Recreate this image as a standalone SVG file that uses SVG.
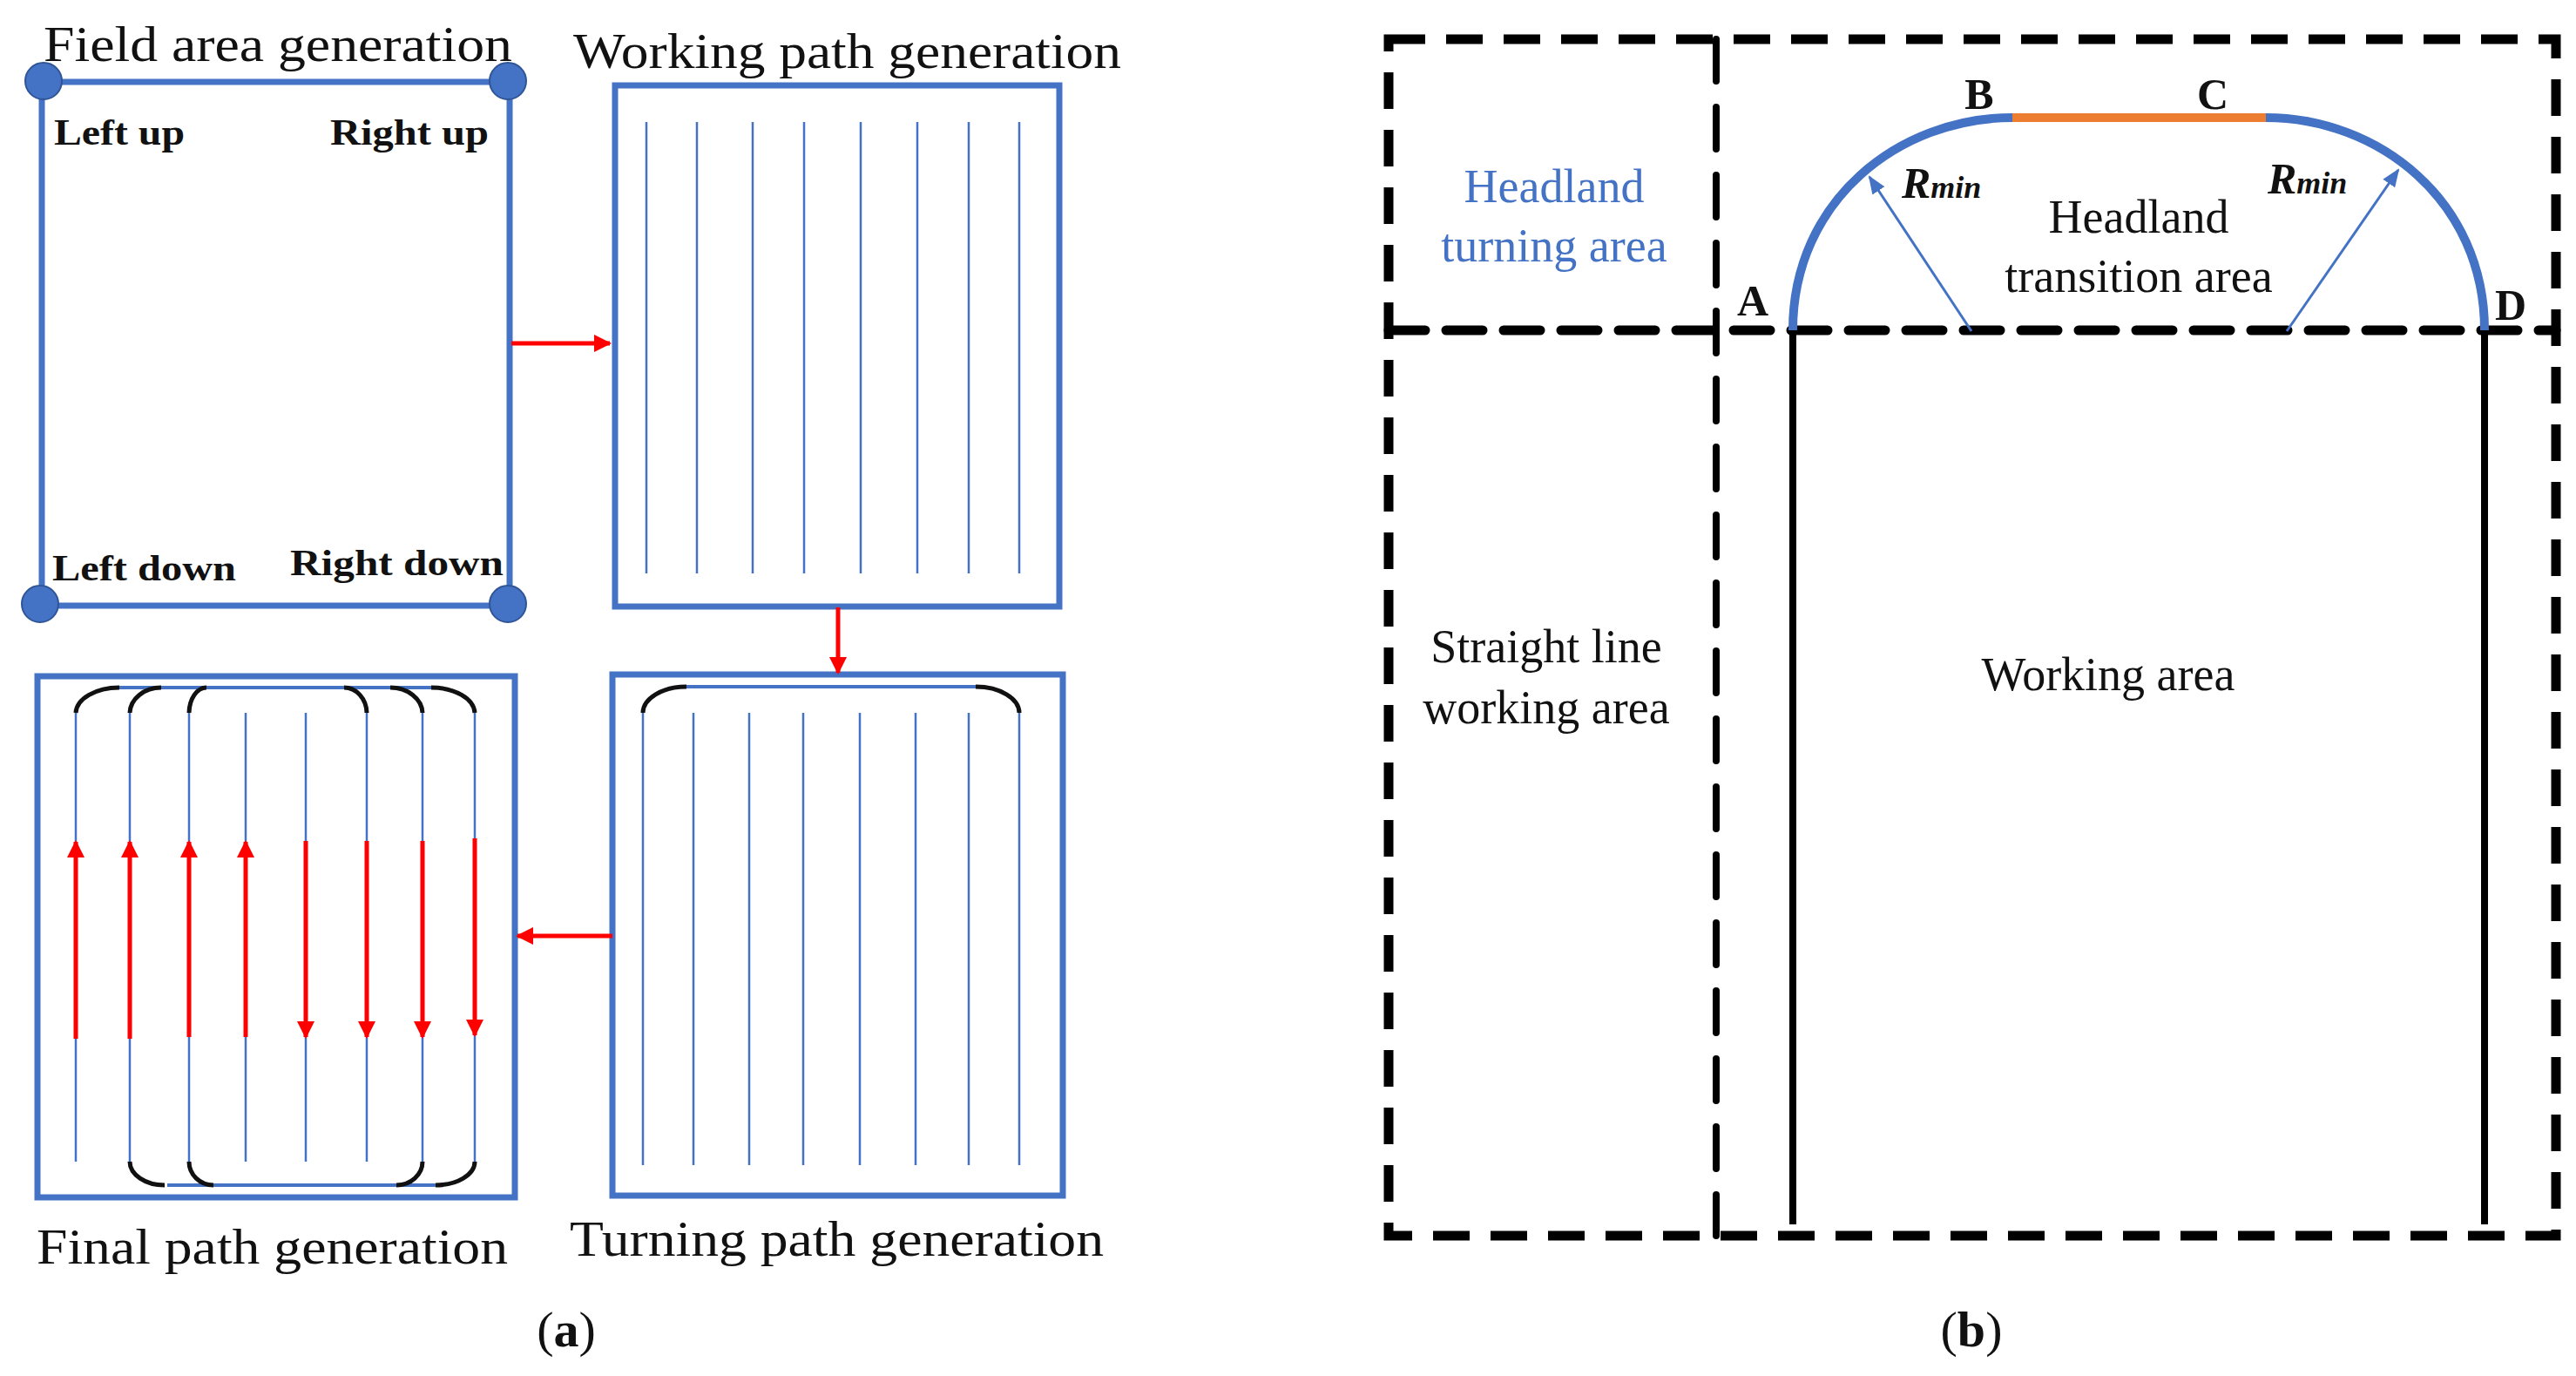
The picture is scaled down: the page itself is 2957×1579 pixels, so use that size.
<svg xmlns="http://www.w3.org/2000/svg" width="2957" height="1579" viewBox="0 0 2957 1579">
<defs>
<style>
.t{font-family:"Liberation Serif",serif;fill:#111}
.box{fill:none;stroke:#4472C4;stroke-width:7}
.wl{stroke:#4472C4;stroke-width:2.5}
.red{stroke:#FF0000;stroke-width:5;fill:none}
.turn{fill:none;stroke:#111;stroke-width:5}
.hb{fill:none;stroke:#4472C4;stroke-width:4}
.dash{fill:none;stroke:#000;stroke-width:11;stroke-dasharray:42 24}
.dv{fill:none;stroke:#000;stroke-width:8;stroke-dasharray:48 30;stroke-linecap:round}
.pt{fill:#4472C4;stroke:#2F5597;stroke-width:2}
</style>
<marker id="ar" viewBox="0 0 10 10" refX="9" refY="5" markerWidth="4" markerHeight="4" orient="auto"><path d="M0,0L10,5L0,10z" fill="#FF0000"/></marker>
<marker id="ab" viewBox="0 0 10 10" refX="9" refY="5" markerWidth="7" markerHeight="7" orient="auto"><path d="M0,1L10,5L0,9z" fill="#4472C4"/></marker>
</defs>

<g id="field">
<rect class="box" x="48" y="94" width="537" height="601"/>
<circle class="pt" cx="50" cy="93" r="21"/><circle class="pt" cx="583" cy="93" r="21"/>
<circle class="pt" cx="46" cy="693" r="21"/><circle class="pt" cx="583" cy="693" r="21"/>
<text class="t" x="50" y="70" font-size="56" textLength="538" lengthAdjust="spacingAndGlyphs">Field area generation</text>
<text class="t" x="62" y="166" font-size="42" font-weight="bold" textLength="150" lengthAdjust="spacingAndGlyphs">Left up</text>
<text class="t" x="379" y="166" font-size="42" font-weight="bold" textLength="182" lengthAdjust="spacingAndGlyphs">Right up</text>
<text class="t" x="60" y="666" font-size="42" font-weight="bold" textLength="211" lengthAdjust="spacingAndGlyphs">Left down</text>
<text class="t" x="333" y="660" font-size="42" font-weight="bold" textLength="245" lengthAdjust="spacingAndGlyphs">Right down</text>
</g>

<g id="working">
<rect class="box" x="706" y="98" width="510" height="598"/>
<path class="wl" d="M742,140V658M800,140V658M864,140V658M923,140V658M988,140V658M1053,140V658M1112,140V658M1170,140V658"/>
<text class="t" x="658" y="78" font-size="56" textLength="629" lengthAdjust="spacingAndGlyphs">Working path generation</text>
</g>

<g id="turning">
<rect class="box" x="703" y="774" width="517" height="598"/>
<path class="wl" d="M738,818V1337M796,818V1337M860,818V1337M922,818V1337M987,818V1337M1051,818V1337M1112,818V1337M1170,818V1337"/>
<path class="hb" d="M788,788H1120"/>
<path class="turn" d="M738,818A50,30 0 0 1 788,788M1120,788A50,30 0 0 1 1170,818"/>
<text class="t" x="654" y="1441" font-size="56" textLength="613" lengthAdjust="spacingAndGlyphs">Turning path generation</text>
</g>

<g id="final">
<rect class="box" x="43" y="776" width="548" height="598"/>
<path class="wl" d="M87,818V1333M149,818V1333M217,818V1333M282,818V1333M351,818V1333M421,818V1333M485,818V1333M545,818V1333"/>
<path class="hb" d="M137,789H495M192,1360H500"/>
<path class="turn" d="M87,818A50,30 0 0 1 137,789M149,818A36,30 0 0 1 185,789M217,818A20,30 0 0 1 237,789M395,789A26,30 0 0 1 421,818M448,789A37,30 0 0 1 485,818M495,789A50,30 0 0 1 545,818"/>
<path class="turn" d="M149,1333A40,27 0 0 0 189,1360M217,1333A28,27 0 0 0 245,1360M455,1360A30,27 0 0 0 485,1333M500,1360A45,27 0 0 0 545,1333"/>
<path class="red" marker-end="url(#ar)" d="M87,1192V966"/>
<path class="red" marker-end="url(#ar)" d="M149,1192V966"/>
<path class="red" marker-end="url(#ar)" d="M217,1190V966"/>
<path class="red" marker-end="url(#ar)" d="M282,1190V966"/>
<path class="red" marker-end="url(#ar)" d="M351,965V1190"/>
<path class="red" marker-end="url(#ar)" d="M421,965V1190"/>
<path class="red" marker-end="url(#ar)" d="M485,965V1190"/>
<path class="red" marker-end="url(#ar)" d="M545,962V1188"/>
<text class="t" x="42" y="1450" font-size="56" textLength="541" lengthAdjust="spacingAndGlyphs">Final path generation</text>
</g>

<g id="connectors">
<path class="red" stroke-width="6" marker-end="url(#ar)" d="M587,394H700"/>
<path class="red" stroke-width="6" marker-end="url(#ar)" d="M962,697V772"/>
<path class="red" stroke-width="6" marker-end="url(#ar)" d="M703,1074H594"/>
</g>

<text class="t" x="650" y="1545" font-size="58" text-anchor="middle">(<tspan font-weight="bold">a</tspan>)</text>

<g id="panel-b">
<rect class="dash" x="1594" y="45" width="1340" height="1373"/>
<path class="dv" d="M1970,45V1418"/>
<path class="dash" d="M1594,379H2934" stroke-linecap="round"/>
<path fill="none" stroke="#000" stroke-width="8" d="M2058,379V1405M2852,379V1405"/>
<path fill="none" stroke="#4472C4" stroke-width="10" d="M2058,379C2058,230 2180,135 2310,135M2601,135C2730,135 2852,230 2852,379"/>
<path fill="none" stroke="#ED7D31" stroke-width="10" d="M2310,135H2601"/>
<path fill="none" stroke="#4472C4" stroke-width="3" marker-end="url(#ab)" d="M2263,380L2146,203"/>
<path fill="none" stroke="#4472C4" stroke-width="3" marker-end="url(#ab)" d="M2625,380L2753,195"/>
<text class="t" x="2272" y="125" font-size="50" font-weight="bold" text-anchor="middle">B</text>
<text class="t" x="2540" y="125" font-size="50" font-weight="bold" text-anchor="middle">C</text>
<text class="t" x="2012" y="362" font-size="50" font-weight="bold" text-anchor="middle">A</text>
<text class="t" x="2882" y="367" font-size="50" font-weight="bold" text-anchor="middle">D</text>
<text class="t" x="2183" y="227" font-size="50" font-weight="bold" font-style="italic">R<tspan font-size="36">min</tspan></text>
<text class="t" x="2603" y="222" font-size="50" font-weight="bold" font-style="italic">R<tspan font-size="36">min</tspan></text>
<text class="t" x="1784" y="232" font-size="54" text-anchor="middle" style="fill:#4472C4">Headland</text>
<text class="t" x="1784" y="300" font-size="54" text-anchor="middle" style="fill:#4472C4">turning area</text>
<text class="t" x="2455" y="267" font-size="54" text-anchor="middle">Headland</text>
<text class="t" x="2455" y="335" font-size="54" text-anchor="middle">transition area</text>
<text class="t" x="1775" y="760" font-size="54" text-anchor="middle">Straight line</text>
<text class="t" x="1775" y="830" font-size="54" text-anchor="middle">working area</text>
<text class="t" x="2420" y="792" font-size="54" text-anchor="middle">Working area</text>
<text class="t" x="2263" y="1545" font-size="58" text-anchor="middle">(<tspan font-weight="bold">b</tspan>)</text>
</g>
</svg>
